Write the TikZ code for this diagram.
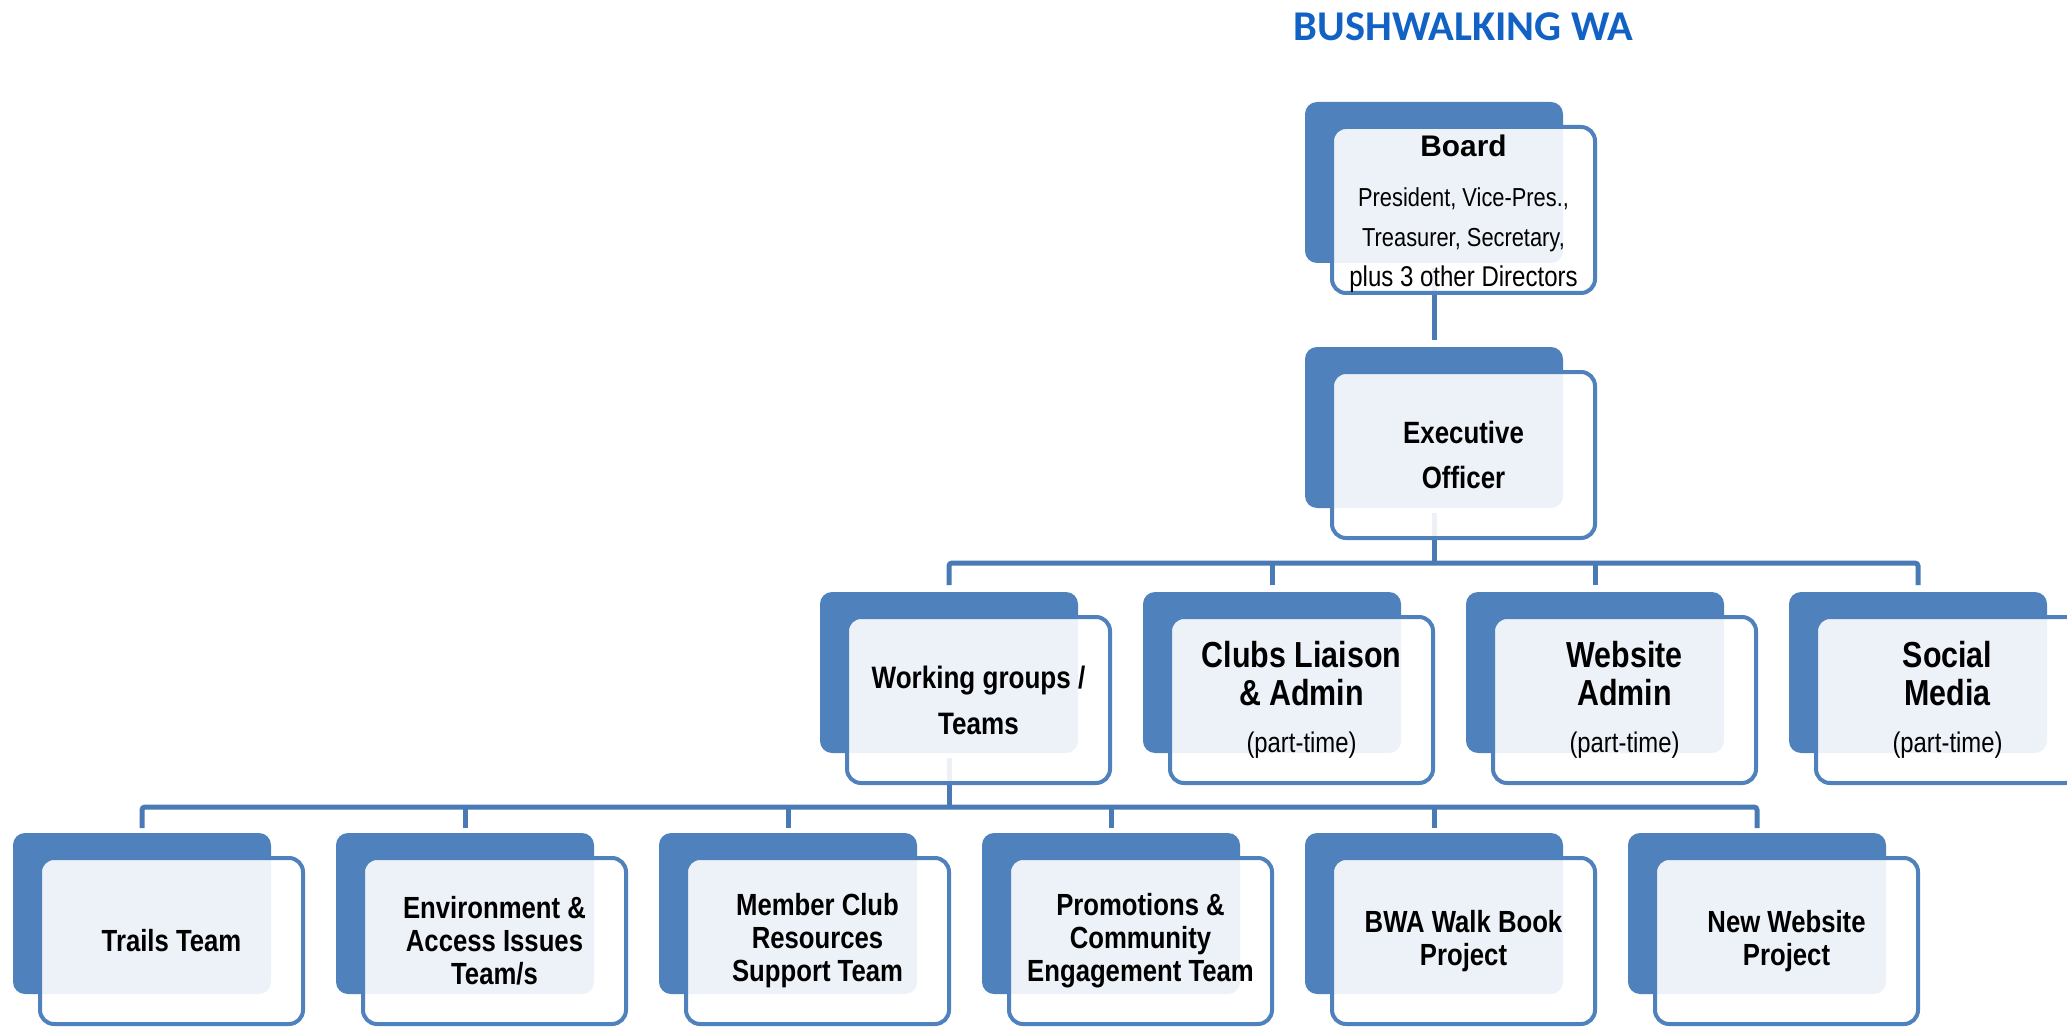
\documentclass[tikz,border=0pt]{standalone}
\usepackage{fontspec}
\setmainfont{Liberation Sans}
\newfontfamily\fnar[FakeStretch=0.84]{Liberation Sans}
\newfontfamily\ftitle{Carlito}
\usetikzlibrary{calc}
\pgfdeclarelayer{background}
\pgfsetlayers{background,main}
\definecolor{boxblue}{HTML}{4F81BD}
\definecolor{linkblue}{HTML}{4A7AB5}
\definecolor{titleblue}{HTML}{1162C4}
\tikzset{
  backbox/.style={fill=boxblue, draw=none, rounded corners=6pt, minimum width=129pt, minimum height=80.5pt, inner sep=0pt, outer sep=0pt},
  frontbox/.style={draw=boxblue, line width=2pt, fill=white, fill opacity=0.9, draw opacity=1, text opacity=1, rounded corners=7pt, minimum width=131.5pt, minimum height=83pt, inner sep=0pt, align=center, text=black},
  conn/.style={draw=linkblue, line width=2.5pt},
  boardfont/.style={font=\bfseries\fontsize{14.9pt}{20pt}\selectfont},
  execfont/.style={font=\fnar\bfseries\fontsize{15.4pt}{22.5pt}\selectfont},
  workfont/.style={font=\fnar\bfseries\fontsize{15.5pt}{23pt}\selectfont},
  rowtwofont/.style={font=\fnar\bfseries\fontsize{18.1pt}{19pt}\selectfont},
  rowthreefont/.style={font=\fnar\bfseries\fontsize{15.3pt}{16.5pt}\selectfont},
  titlefont/.style={font=\ftitle\bfseries\fontsize{21.2pt}{21.2pt}\selectfont, text=titleblue},
}
\newcommand{\parttime}{{\fnar\mdseries\fontsize{14.2pt}{14.2pt}\selectfont (part-time)}}
\newcommand{\boardline}[2]{{\fnar\mdseries\fontsize{#1}{20pt}\selectfont #2}}
\begin{document}
\begin{tikzpicture}[x=0.5pt,y=-0.5pt]
\useasboundingbox (0,0) rectangle (2067,1027);
\begin{pgfonlayer}{background}
\fill[white] (0,0) rectangle (2067,1027);
\end{pgfonlayer}

% title
\node[titlefont, anchor=base] (title) at (1463.5,41) {BUSHWALKING WA};

% Board
\node[backbox] (bB) at (1434,182.5) {};
\node[frontbox, boardfont] (fB) at (1463.5,210) {\rule{0pt}{14pt}Board\\[5pt]\boardline{13pt}{President, Vice-Pres.,}\\\boardline{13pt}{Treasurer, Secretary,}\\\boardline{14.3pt}{plus 3 other Directors}};

% Executive Officer
\node[backbox] (bE) at (1434,427.5) {};
\node[frontbox, execfont] (fE) at (1463.5,455) {Executive\\Officer};

% Row 2
\node[backbox] (bW) at (949,672.5) {};
\node[frontbox, workfont] (fW) at (978.5,700) {Working groups /\\Teams};
\node[backbox] (bC) at (1272,672.5) {};
\node[frontbox, rowtwofont] (fC) at (1301.5,700) {Clubs Liaison\\\& Admin\\[4.5pt]\parttime};
\node[backbox] (bWA) at (1595,672.5) {};
\node[frontbox, rowtwofont] (fWA) at (1624.5,700) {Website\\Admin\\[4.5pt]\parttime};
\node[backbox] (bS) at (1918,672.5) {};
\node[frontbox, rowtwofont] (fS) at (1947.5,700) {Social\\Media\\[4.5pt]\parttime};

% Row 3
\node[backbox] (b1) at (142,913.5) {};
\node[frontbox, rowthreefont] (f1) at (171.5,941) {Trails Team};
\node[backbox] (b2) at (465,913.5) {};
\node[frontbox, rowthreefont] (f2) at (494.5,941) {Environment \&\\Access Issues\\Team/s};
\node[backbox] (b3) at (788,913.5) {};
\node[frontbox, rowthreefont] (f3) at (817.5,941) {Member Club\\Resources\\Support Team};
\node[backbox] (b4) at (1111,913.5) {};
\node[frontbox, rowthreefont] (f4) at (1140.5,941) {Promotions \&\\Community\\Engagement Team};
\node[backbox] (b5) at (1434,913.5) {};
\node[frontbox, rowthreefont] (f5) at (1463.5,941) {BWA Walk Book\\Project};
\node[backbox] (b6) at (1757,913.5) {};
\node[frontbox, rowthreefont] (f6) at (1786.5,941) {New Website\\Project};

% connectors
\coordinate (busA) at (0,563);
\coordinate (busB) at (0,807);
\begin{pgfonlayer}{background}
\draw[conn] ($(bB.south)+(0,5)$) -- ($(bE.north)+(0,-7)$);
\draw[conn] ($(bE.south)+(0,5)$) -- (bE.south |- busA);
\draw[conn, rounded corners=1.5pt] ($(bW.north)+(0,-7)$) -- (bW.north |- busA) -- (bS.north |- busA) -- ($(bS.north)+(0,-7)$);
\draw[conn] (bC.north |- busA) -- ($(bC.north)+(0,-7)$);
\draw[conn] (bWA.north |- busA) -- ($(bWA.north)+(0,-7)$);
\draw[conn] ($(bW.south)+(0,5)$) -- (bW.south |- busB);
\draw[conn, rounded corners=1.5pt] ($(b1.north)+(0,-5)$) -- (b1.north |- busB) -- (b6.north |- busB) -- ($(b6.north)+(0,-5)$);
\draw[conn] (b2.north |- busB) -- ($(b2.north)+(0,-5)$);
\draw[conn] (b3.north |- busB) -- ($(b3.north)+(0,-5)$);
\draw[conn] (b4.north |- busB) -- ($(b4.north)+(0,-5)$);
\draw[conn] (b5.north |- busB) -- ($(b5.north)+(0,-5)$);
\end{pgfonlayer}
\end{tikzpicture}
\end{document}
